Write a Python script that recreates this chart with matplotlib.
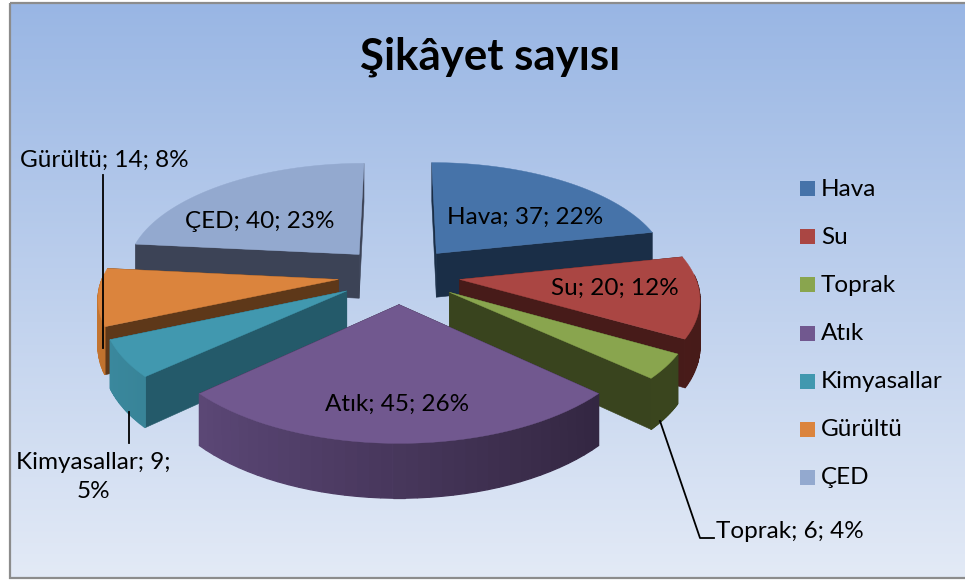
"""
Exploded 3D pie drawn by hand, matplotlib has no real 3D pie
"""
import numpy as np
import matplotlib
matplotlib.use('Agg')
import matplotlib.pyplot as plt
from matplotlib.colors import to_rgb
from matplotlib.patches import Polygon, Rectangle

plt.rcParams['font.family'] = ['Lato', 'DejaVu Sans']

title = 'Şikâyet sayısı'
categories = ['Hava', 'Su', 'Toprak', 'Atık', 'Kimyasallar', 'Gürültü', 'ÇED']
values = [37, 20, 6, 45, 9, 14, 40]
percents = [22, 12, 4, 26, 5, 8, 23]
top_colors = ['#4673a9', '#aa4643', '#89a54e', '#71588f', '#4198af', '#db843d', '#93a9cf']
side_colors = ['#1a2e47', '#471b19', '#39441e', '#2c2138', '#245a6a', '#5e3819', '#3c4356']
wall_colors = ['#2f4d72', '#521f1d', '#3f4b20', '#634d80', '#3b8a9f', '#c4742f', '#3c4356']

# projection settings, in pixels
cx, cy = 399, 320
rx, ry = 235, 116
height = 45
persp = 7.0
explode = 0.26


def project(x, y, z):
    s = persp/(persp+y)
    return cx+rx*x*s, cy-ry*y*s-height*z*s


def pts(xs, ys, z):
    return np.column_stack(project(np.asarray(xs), np.asarray(ys), z))


def draw_slice(ax, i, start, end, zorder):
    mid = (start+end)/2
    ox, oy = explode*np.sin(mid), explode*np.cos(mid)
    th = np.linspace(start, end, 40)
    xs, ys = ox+np.sin(th), oy+np.cos(th)
    # radial cut faces, the one further back first
    cuts = sorted((0, -1), key=lambda k: -ys[k])
    for k in cuts:
        quad = np.vstack([pts([ox, xs[k]], [oy, ys[k]], 1),
                          pts([xs[k], ox], [ys[k], oy], 0)])
        ax.add_patch(Polygon(quad, closed=True, facecolor=side_colors[i], edgecolor=side_colors[i],
                             lw=0.4, zorder=zorder))
    # outer wall, split up so it can shade along the arc
    base = np.array(to_rgb(wall_colors[i]))
    dark = np.array(to_rgb(side_colors[i]))
    for k in range(len(th)-1):
        if np.cos((th[k]+th[k+1])/2) > 0.05:
            continue
        shade = np.clip((np.sin(th[k])+1)/2, 0, 1)
        col = base*(1-shade)+dark*shade
        quad = np.vstack([pts(xs[k:k+2], ys[k:k+2], 1),
                          pts(xs[k:k+2][::-1], ys[k:k+2][::-1], 0)])
        ax.add_patch(Polygon(quad, closed=True, facecolor=col, edgecolor=col, lw=0.9,
                             joinstyle='miter', zorder=zorder))
    top = pts(np.r_[ox, xs], np.r_[oy, ys], 1)
    ax.add_patch(Polygon(top, closed=True, facecolor=top_colors[i], edgecolor=top_colors[i],
                         lw=0.3, zorder=zorder))


fig = plt.figure(figsize=(9.65, 5.8), dpi=100)
ax = fig.add_axes([0, 0, 1, 1])
ax.axis('off')

# chart area background
grad = np.linspace(0, 1, 256)[:, None, None]
rgb = np.array([0.600, 0.714, 0.894])*(1-grad)+np.array([0.890, 0.918, 0.965])*grad
ax.imshow(rgb, extent=(10, 965, 578, 3), aspect='auto', zorder=0)
ax.set_xlim(0, 965)
ax.set_ylim(580, 0)
ax.add_patch(Rectangle((9.5, 2.5), 960, 575.5, facecolor='none', edgecolor='#8c8c8c', lw=1.6, zorder=1))

ax.text(490, 57, title, fontsize=31.5, fontweight='bold', ha='center', va='center', color='#000000')

# slices, clockwise from 12 o'clock, back ones first
fracs = np.array(values)/np.sum(values)
edges = np.r_[0, np.cumsum(fracs)]*2*np.pi
order = sorted(range(len(values)), key=lambda i: -np.cos((edges[i]+edges[i+1])/2))
for z, i in enumerate(order):
    draw_slice(ax, i, edges[i], edges[i+1], 2+z)

# data labels
label_pos = [(525, 217), (615, 288), (790, 532), (397, 404), (93, 477), (104, 160), (260, 221)]
labels = ['%s; %d; %d%%' % (c, v, p) for c, v, p in zip(categories, values, percents)]
labels[4] = 'Kimyasallar; 9;\n5%'
for lab, (x, y) in zip(labels, label_pos):
    ax.text(x, y, lab, fontsize=17.5, ha='center', va='center', color='#000000',
            linespacing=1.5, zorder=20)

# leader lines
ax.plot([660, 700, 714], [421, 538, 538], color='k', lw=1.3, zorder=19)
ax.plot([129, 129], [412, 443], color='k', lw=1.3, zorder=19)
ax.plot([102.5, 102.5], [175, 348], color='k', lw=1.3, zorder=19)

# legend
legend_y = [188, 236, 284, 333, 381, 429, 477]
for name, col, y in zip(categories, top_colors, legend_y):
    ax.add_patch(Rectangle((800, y-7.5), 15, 15, facecolor=col, edgecolor='none', zorder=20))
    ax.text(821, y+1, name, fontsize=17.5, ha='left', va='center', color='#000000', zorder=20)

fig.savefig('out.png', dpi=100)
